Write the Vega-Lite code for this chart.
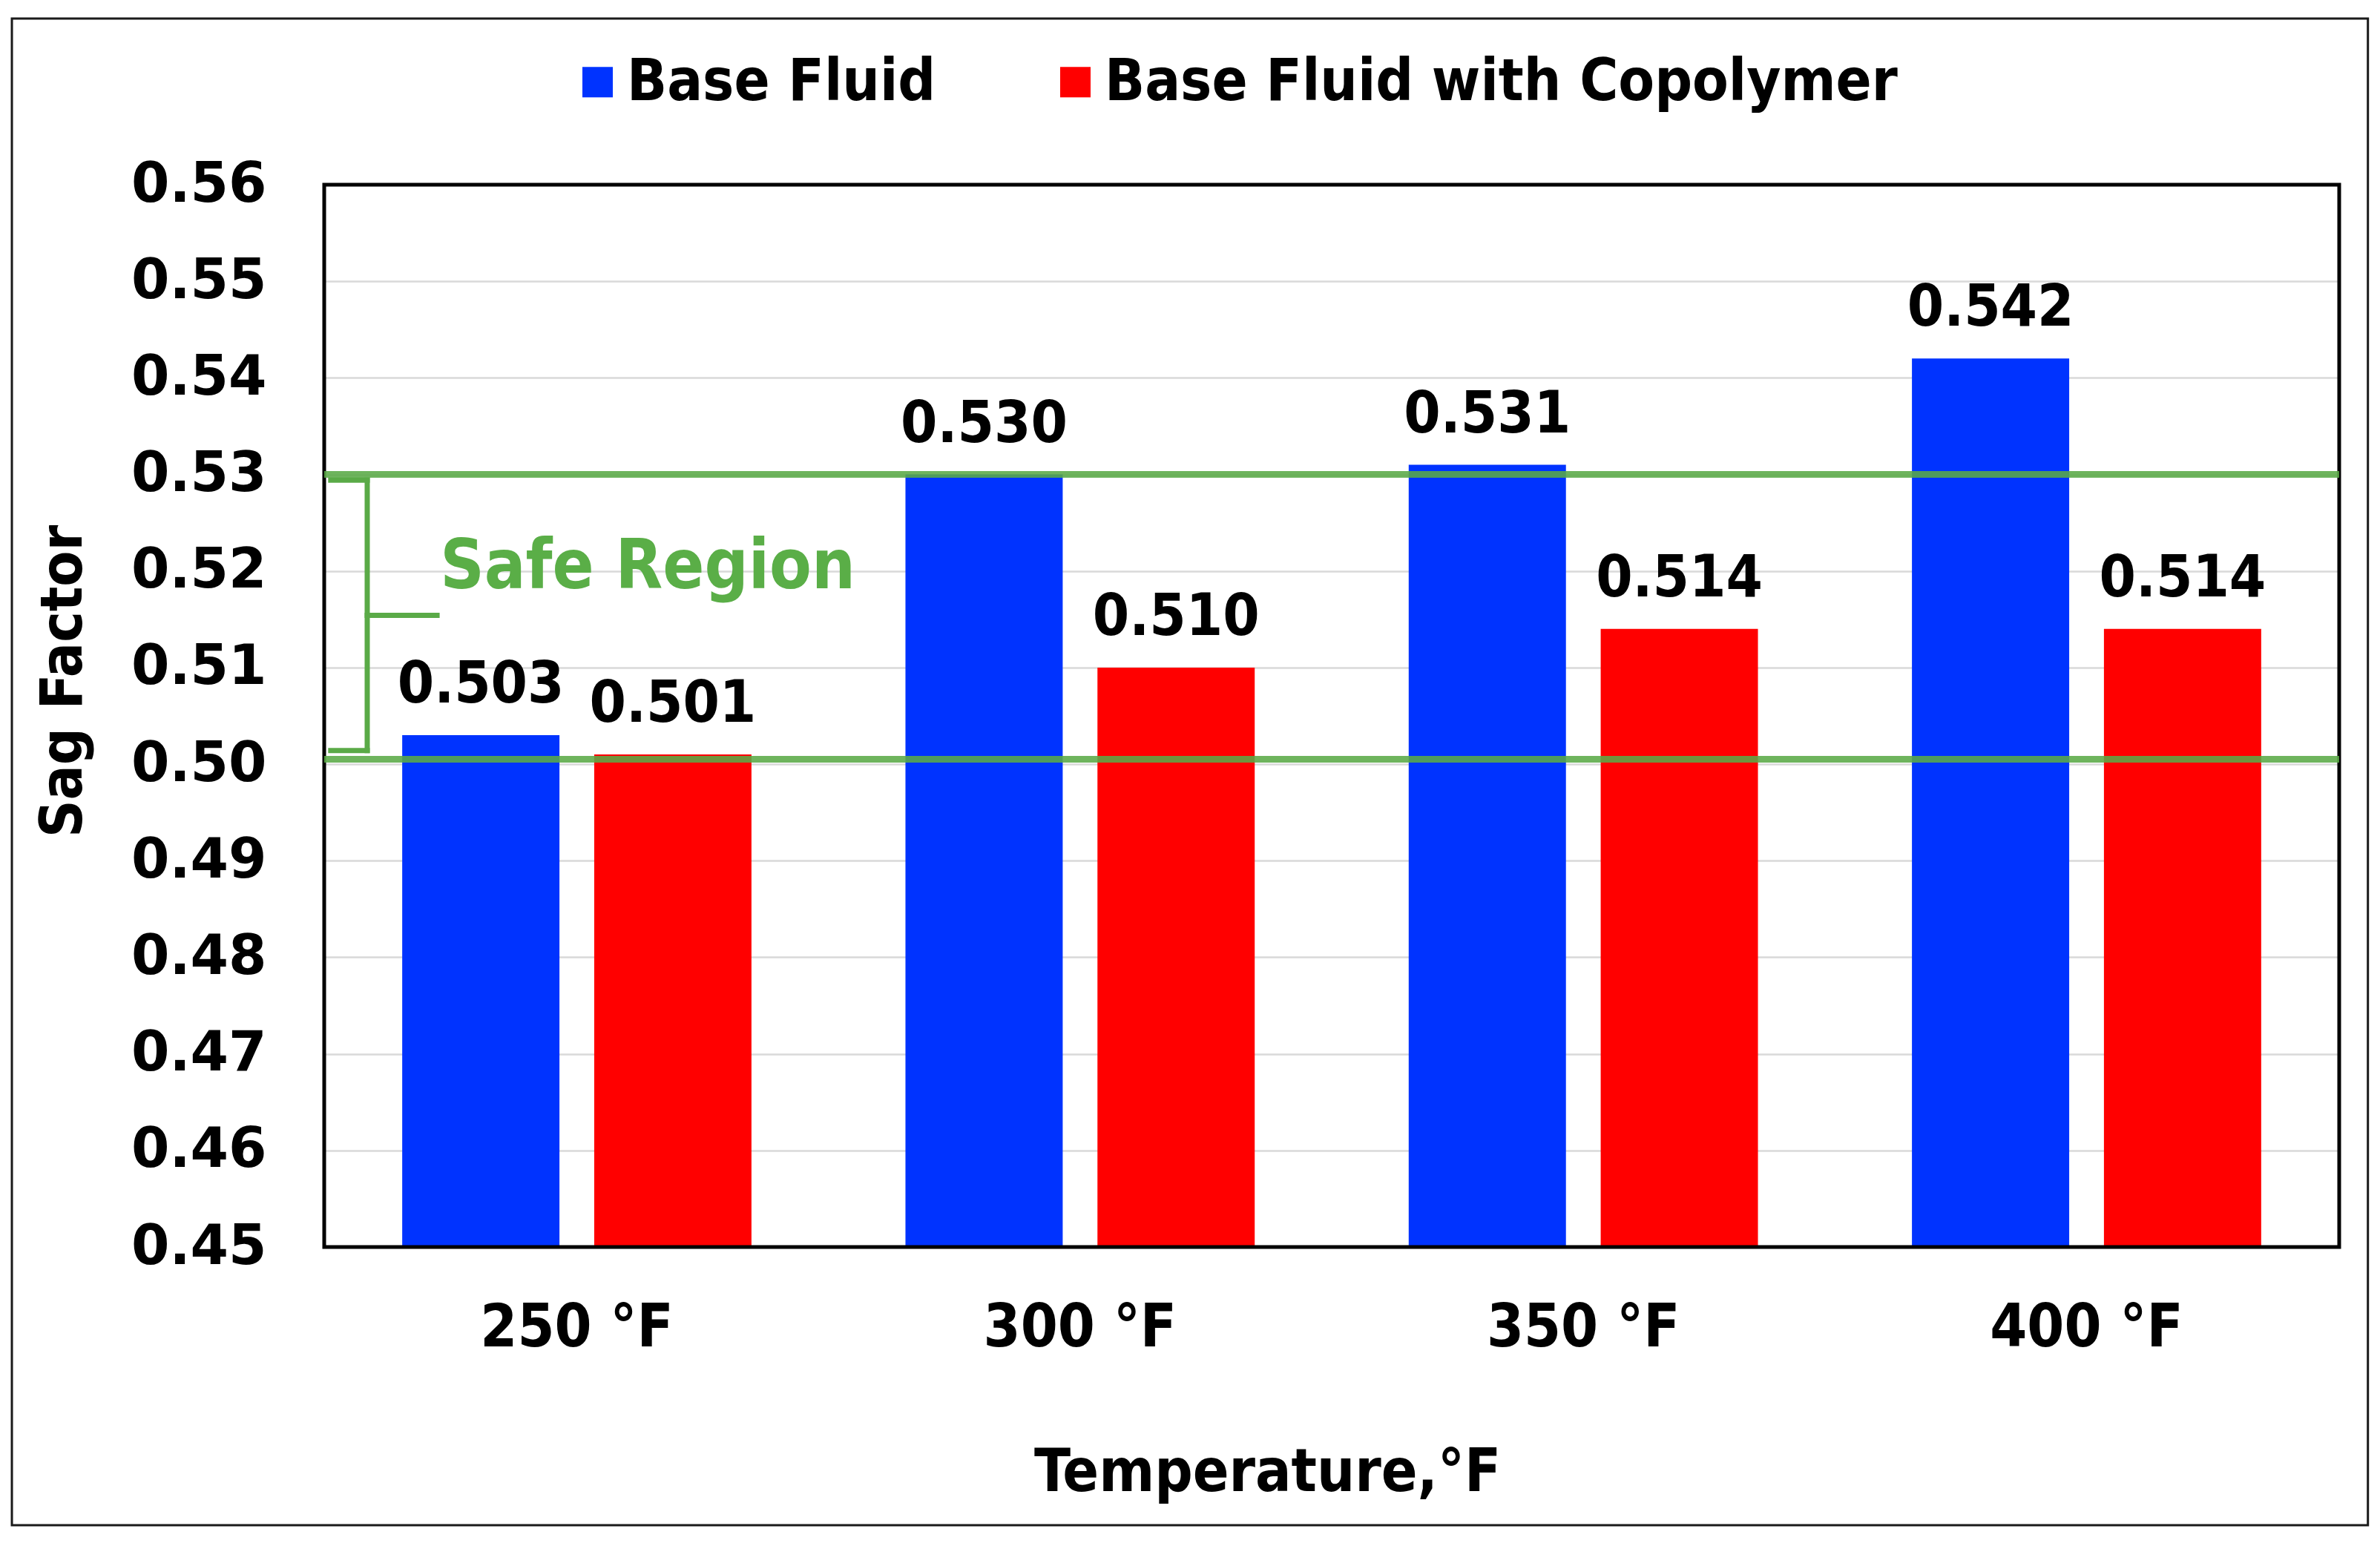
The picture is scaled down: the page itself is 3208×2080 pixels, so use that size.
{
  "$schema": "https://vega.github.io/schema/vega-lite/v6.json",
  "width": 2716,
  "height": 1432,
  "autosize": {"type": "none"},
  "padding": {"left": 437, "top": 249, "right": 55, "bottom": 399},
  "background": "white",
  "config": {
    "view": {"stroke": null},
    "axisY": {
      "format": ".2f",
      "labelFont": "DejaVu Sans",
      "labelFontWeight": "bold",
      "labelFontSize": 74,
      "labelColor": "black",
      "labelPadding": 78,
      "labelLimit": 1000,
      "ticks": false,
      "domain": false,
      "grid": true,
      "gridColor": "#d9d9d9",
      "gridWidth": 2.5,
      "titleFont": "DejaVu Sans Condensed",
      "titleFontWeight": "bold",
      "titleFontSize": 78,
      "titleColor": "black",
      "titleBaseline": "middle",
      "titleX": -351,
      "titleY": 669
    }
  },
  "datasets": {
    "bars": [
      {"temp": "250 °F", "fluid": "Base Fluid", "sag": 0.503},
      {"temp": "250 °F", "fluid": "Base Fluid with Copolymer", "sag": 0.501},
      {"temp": "300 °F", "fluid": "Base Fluid", "sag": 0.530},
      {"temp": "300 °F", "fluid": "Base Fluid with Copolymer", "sag": 0.510},
      {"temp": "350 °F", "fluid": "Base Fluid", "sag": 0.531},
      {"temp": "350 °F", "fluid": "Base Fluid with Copolymer", "sag": 0.514},
      {"temp": "400 °F", "fluid": "Base Fluid", "sag": 0.542},
      {"temp": "400 °F", "fluid": "Base Fluid with Copolymer", "sag": 0.514}
    ],
    "limits": [{"limit": 0.530}, {"limit": 0.5005}],
    "bracket": [
      {"bx": 0.0854, "bx2": 0.0854, "by": 0.5294, "by2": 0.5014},
      {"bx": 0.013, "bx2": 0.0854, "by": 0.5294, "by2": 0.5294},
      {"bx": 0.013, "bx2": 0.0854, "by": 0.5014, "by2": 0.5014},
      {"bx": 0.0854, "bx2": 0.224, "by": 0.5154, "by2": 0.5154}
    ],
    "note": [{"label": "Safe Region", "nx": 0.23, "ny": 0.5182}]
  },
  "layer": [
    {
      "data": {"name": "bars"},
      "encoding": {
        "x": {
          "field": "temp",
          "type": "nominal",
          "sort": ["250 °F", "300 °F", "350 °F", "400 °F"],
          "scale": {"paddingInner": 0.306, "paddingOuter": 0.155},
          "title": "Temperature,°F",
          "axis": {
            "labelFont": "DejaVu Sans Condensed",
            "labelFontWeight": "bold",
            "labelFontSize": 80,
            "labelColor": "black",
            "labelPadding": 70,
            "labelLimit": 2000,
            "labelAngle": 0,
            "ticks": false,
            "domain": false,
            "titleFont": "DejaVu Sans Condensed",
            "titleFontWeight": "bold",
            "titleFontSize": 80,
            "titleColor": "black",
            "titleX": 1271,
            "titlePadding": 116
          }
        },
        "xOffset": {
          "field": "fluid",
          "type": "nominal",
          "sort": ["Base Fluid", "Base Fluid with Copolymer"],
          "scale": {"paddingInner": 0.181, "paddingOuter": 0}
        },
        "y": {
          "field": "sag",
          "type": "quantitative",
          "scale": {"domain": [0.45, 0.56], "nice": false, "zero": false},
          "title": "Sag Factor",
          "axis": {
            "values": [0.45, 0.46, 0.47, 0.48, 0.49, 0.50, 0.51, 0.52, 0.53, 0.54, 0.55, 0.56]
          }
        }
      },
      "layer": [
        {
          "mark": {"type": "bar"},
          "encoding": {
            "y2": {"datum": 0.45},
            "color": {
              "field": "fluid",
              "type": "nominal",
              "scale": {"domain": ["Base Fluid", "Base Fluid with Copolymer"], "range": ["#0033FF", "#FF0000"]},
              "legend": {
                "orient": "none",
                "legendX": 329,
                "legendY": -178,
                "direction": "horizontal",
                "columns": 2,
                "title": null,
                "symbolType": "square",
                "symbolSize": 1681,
                "symbolStrokeWidth": 0,
                "symbolOpacity": 1,
                "labelFont": "DejaVu Sans Condensed",
                "labelFontWeight": "bold",
                "labelFontSize": 79,
                "labelColor": "black",
                "labelOffset": 0,
                "labelLimit": 2000,
                "columnPadding": 148
              }
            }
          }
        },
        {
          "mark": {
            "type": "text",
            "baseline": "alphabetic",
            "align": "center",
            "dy": -44,
            "font": "DejaVu Sans Condensed",
            "fontWeight": "bold",
            "fontSize": 79,
            "color": "black"
          },
          "encoding": {"text": {"field": "sag", "type": "quantitative", "format": ".3f"}}
        }
      ]
    },
    {
      "layer": [
        {
          "data": {"values": [{}]},
          "mark": {"type": "rect", "filled": false, "stroke": "black", "strokeWidth": 5},
          "encoding": {
            "x": {"datum": 0, "type": "quantitative", "scale": {"domain": [0, 4], "nice": false}, "axis": null},
            "x2": {"datum": 4},
            "y": {"datum": 0.45, "type": "quantitative", "title": "Sag Factor"},
            "y2": {"datum": 0.56}
          }
        },
        {
          "data": {"name": "limits"},
          "mark": {"type": "rule", "color": "#5AAA47", "strokeWidth": 9, "opacity": 0.88},
          "encoding": {
            "x": {"datum": 0, "type": "quantitative", "axis": null},
            "x2": {"datum": 4},
            "y": {"field": "limit", "type": "quantitative", "title": "Sag Factor"}
          }
        },
        {
          "data": {"name": "bracket"},
          "mark": {"type": "rule", "color": "#5AAA47", "strokeWidth": 7, "strokeCap": "square"},
          "encoding": {
            "x": {"field": "bx", "type": "quantitative", "axis": null},
            "x2": {"field": "bx2"},
            "y": {"field": "by", "type": "quantitative", "title": "Sag Factor"},
            "y2": {"field": "by2"}
          }
        },
        {
          "data": {"name": "note"},
          "mark": {
            "type": "text",
            "align": "left",
            "baseline": "alphabetic",
            "font": "DejaVu Sans Condensed",
            "fontWeight": "bold",
            "fontSize": 92,
            "color": "#5AAE47"
          },
          "encoding": {
            "x": {"field": "nx", "type": "quantitative", "axis": null},
            "y": {"field": "ny", "type": "quantitative", "title": "Sag Factor"},
            "text": {"field": "label", "type": "nominal"}
          }
        },
        {
          "data": {"values": [{}]},
          "mark": {"type": "rect", "filled": false, "stroke": "#1a1a1a", "strokeWidth": 3},
          "encoding": {
            "x": {"datum": -0.62, "type": "quantitative", "axis": null},
            "x2": {"datum": 4.057},
            "y": {"datum": 0.5772, "type": "quantitative", "title": "Sag Factor"},
            "y2": {"datum": 0.4212}
          }
        }
      ]
    }
  ],
  "resolve": {"scale": {"x": "independent"}}
}
